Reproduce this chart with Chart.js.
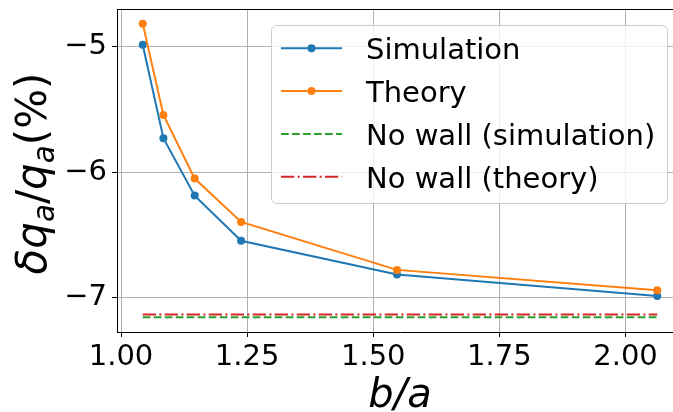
<!DOCTYPE html>
<html>
<head>
<meta charset="utf-8">
<script src="https://cdn.jsdelivr.net/npm/chart.js@4.4.1/dist/chart.umd.min.js"></script>
<style>
  html, body { margin: 0; padding: 0; background: #fff; overflow: hidden; }
  #wrap { width: 700px; height: 412px; }
</style>
</head>
<body>
<div id="wrap"><canvas id="wallChart" width="700" height="412"></canvas></div>
<script>
// b/a ratios and relative change of q_a (%)
const bRatio = [1.043, 1.084, 1.146, 1.238, 1.547, 2.063];
const simulation = [-4.982, -5.729, -6.187, -6.548, -6.817, -6.988];
const theory = [-4.814, -5.543, -6.051, -6.397, -6.780, -6.943];
const noWallSimulation = -7.159;
const noWallTheory = -7.137;

const xTicks = [1.0, 1.25, 1.5, 1.75, 2.0];
const xTickLabels = ['1.00', '1.25', '1.50', '1.75', '2.00'];
const yTicks = [-7, -6, -5];
const yTickLabels = ['\u22127', '\u22126', '\u22125'];

const FONT = '"DejaVu Sans", sans-serif';

const toPoints = (xs, ys) => xs.map((x, i) => ({ x: x, y: ys[i] }));
const flatLine = (v) => [{ x: bRatio[0], y: v }, { x: bRatio[bRatio.length - 1], y: v }];

// legend drawn inside the axes like matplotlib's
const legendBox = {
    id: 'legendBox',
    afterDatasetsDraw(chart) {
        const ctx = chart.ctx;
        ctx.save();
        ctx.beginPath();
        ctx.roundRect(271.5, 25.5, 396, 178, 5);
        ctx.fillStyle = 'rgba(255,255,255,0.8)';
        ctx.fill();
        ctx.strokeStyle = '#cccccc';
        ctx.lineWidth = 1;
        ctx.stroke();
        chart.data.datasets.forEach((ds, i) => {
            const y = 48.3 + i * 42.8;
            ctx.strokeStyle = ds.borderColor;
            ctx.lineWidth = ds.borderWidth;
            ctx.setLineDash(ds.borderDash || []);
            ctx.beginPath();
            ctx.moveTo(281, y);
            ctx.lineTo(342, y);
            ctx.stroke();
            ctx.setLineDash([]);
            if (ds.pointRadius > 0) {
                ctx.beginPath();
                ctx.arc(311.5, y, ds.pointRadius, 0, Math.PI * 2);
                ctx.fillStyle = ds.borderColor;
                ctx.fill();
            }
            ctx.fillStyle = '#000';
            ctx.font = '29px ' + FONT;
            ctx.textBaseline = 'alphabetic';
            ctx.textAlign = 'left';
            ctx.fillText(ds.label, 366, y + 11);
        });
        ctx.restore();
    }
};

// top / right spines and the math-style axis titles
const frameAndTitles = {
    id: 'frameAndTitles',
    afterDraw(chart) {
        const ctx = chart.ctx;
        const a = chart.chartArea;
        ctx.save();
        ctx.strokeStyle = '#000';
        ctx.lineWidth = 1;
        ctx.beginPath();
        ctx.moveTo(a.left, a.top + 0.5);
        ctx.lineTo(a.right, a.top + 0.5);
        ctx.lineTo(a.right, a.bottom);
        ctx.stroke();

        // x title
        ctx.fillStyle = '#000';
        ctx.font = 'italic 40px ' + FONT;
        ctx.textAlign = 'center';
        ctx.textBaseline = 'alphabetic';
        ctx.fillText('b/a', (a.left + a.right) / 2, 407);

        // y title: δq_a/q_a(%)
        const size = 42;
        const parts = [
            { t: '\u03b4', it: true }, { t: 'q', it: true }, { t: 'a', it: true, sub: true },
            { t: '/', it: false }, { t: 'q', it: true }, { t: 'a', it: true, sub: true },
            { t: '(%)', it: false }
        ];
        const fontOf = (p) => (p.it ? 'italic ' : '') + (p.sub ? size * 0.7 : size) + 'px ' + FONT;
        let total = 0;
        parts.forEach(p => { ctx.font = fontOf(p); p.w = ctx.measureText(p.t).width; total += p.w; });
        ctx.translate(46, (a.top + a.bottom) / 2 + 3);
        ctx.rotate(-Math.PI / 2);
        ctx.textAlign = 'left';
        let x = -total / 2;
        parts.forEach(p => {
            ctx.font = fontOf(p);
            ctx.fillText(p.t, x, p.sub ? size * 0.2 : 0);
            x += p.w;
        });
        ctx.restore();
    }
};

const noPad = (s) => { s.paddingTop = 0; s.paddingBottom = 0; s.paddingLeft = 0; s.paddingRight = 0; };

const ctx = document.getElementById('wallChart').getContext('2d');
const chart = new Chart(ctx, {
    type: 'line',
    data: {
        datasets: [
            {
                label: 'Simulation',
                data: toPoints(bRatio, simulation),
                borderColor: '#1f77b4', backgroundColor: '#1f77b4',
                borderWidth: 2, pointRadius: 4, pointBorderWidth: 0, order: 4
            },
            {
                label: 'Theory',
                data: toPoints(bRatio, theory),
                borderColor: '#ff7f0e', backgroundColor: '#ff7f0e',
                borderWidth: 2, pointRadius: 4, pointBorderWidth: 0, order: 3
            },
            {
                label: 'No wall (simulation)',
                data: flatLine(noWallSimulation),
                borderColor: '#2ca02c', borderWidth: 2, borderDash: [7.7, 3.3],
                pointRadius: 0, order: 2
            },
            {
                label: 'No wall (theory)',
                data: flatLine(noWallTheory),
                borderColor: '#d62728', borderWidth: 2, borderDash: [13.3, 3.3, 2.1, 3.3],
                pointRadius: 0, order: 1
            }
        ]
    },
    options: {
        responsive: false,
        animation: false,
        layout: { padding: { top: 9, right: 17, left: 0, bottom: 0 } },
        plugins: { legend: { display: false }, tooltip: { enabled: false } },
        scales: {
            x: {
                type: 'linear',
                min: 0.992, max: 2.114,
                afterBuildTicks: (s) => { s.ticks = xTicks.map(v => ({ value: v })); },
                afterFit: (s) => { s.height = 80; noPad(s); },
                ticks: {
                    color: '#000', font: { family: FONT, size: 29 }, padding: 3,
                    maxRotation: 0, autoSkip: false,
                    callback: (v) => xTickLabels[xTicks.indexOf(v)]
                },
                grid: { color: '#b0b0b0', lineWidth: 1, tickColor: '#000', tickLength: 5 },
                border: { color: '#000', width: 1 }
            },
            y: {
                min: -7.276, max: -4.697,
                afterBuildTicks: (s) => { s.ticks = yTicks.map(v => ({ value: v })); },
                afterFit: (s) => { s.width = 117; noPad(s); },
                ticks: {
                    color: '#000', font: { family: FONT, size: 29 }, padding: 5,
                    autoSkip: false,
                    callback: (v) => yTickLabels[yTicks.indexOf(v)]
                },
                grid: { color: '#b0b0b0', lineWidth: 1, tickColor: '#000', tickLength: 5 },
                border: { color: '#000', width: 1 }
            }
        }
    },
    plugins: [legendBox, frameAndTitles]
});
</script>
</body>
</html>
